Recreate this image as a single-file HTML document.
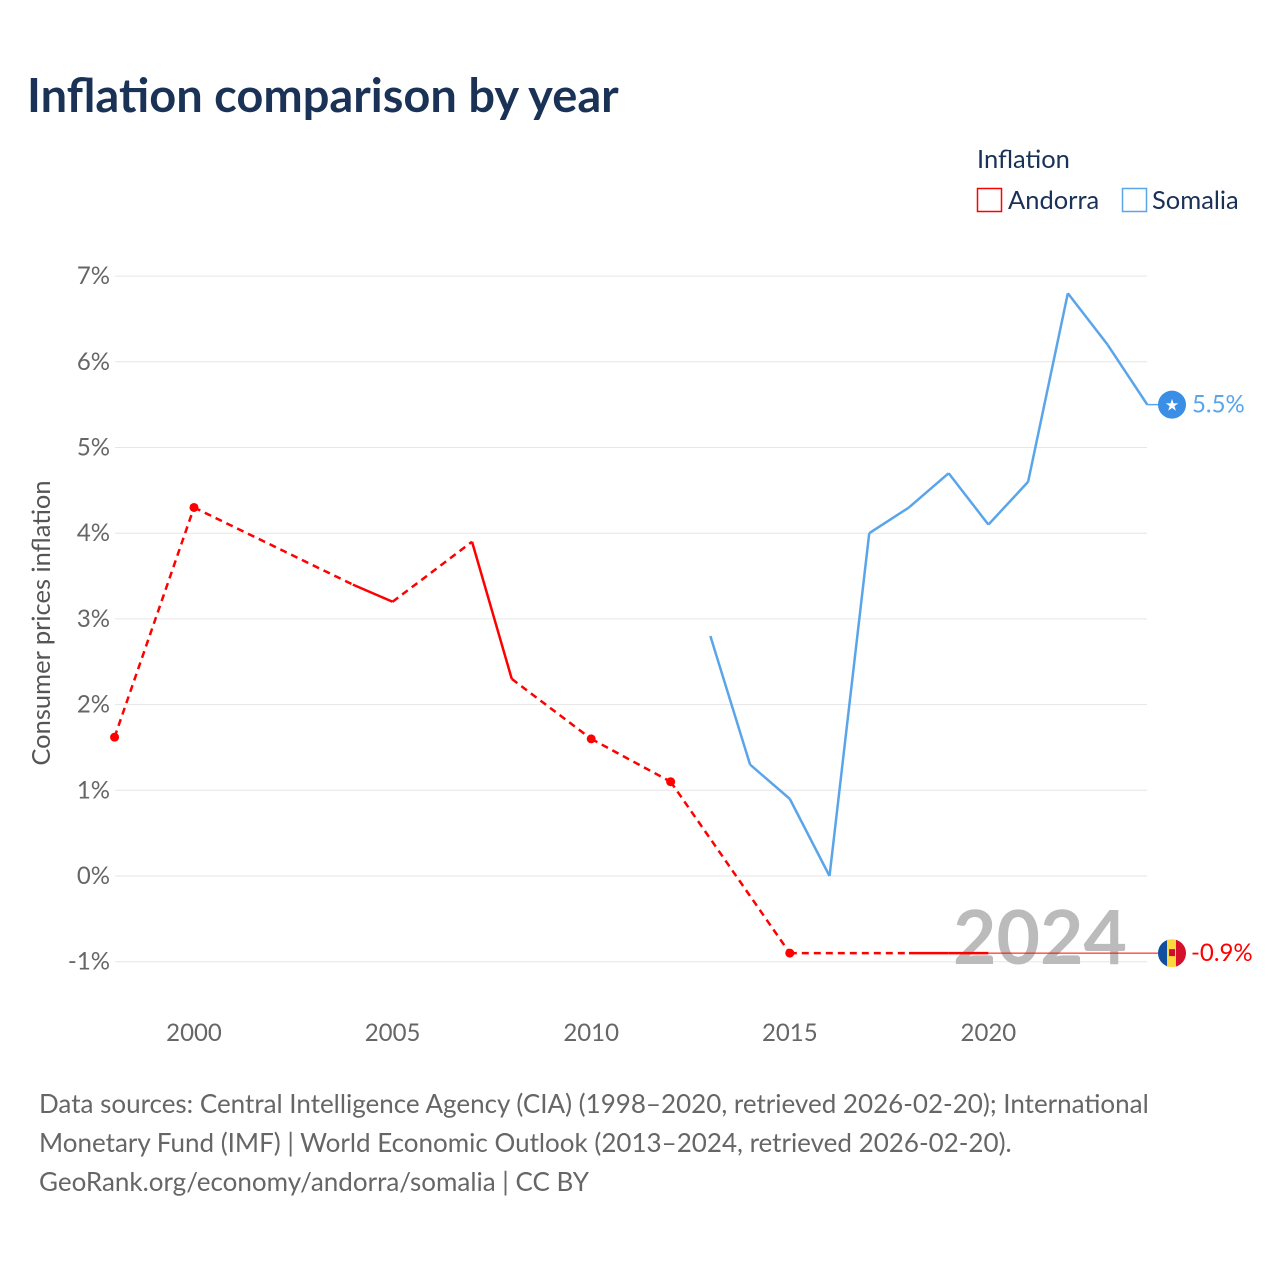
<!DOCTYPE html>
<html><head><meta charset="utf-8">
<style>
body{margin:0;background:#fff;font-family:"Liberation Sans",sans-serif;}
svg text{font-family:"Lato","Liberation Sans",sans-serif;}
</style></head>
<body>
<svg id="chart" width="1280" height="1280" viewBox="0 0 1280 1280" xmlns="http://www.w3.org/2000/svg">
<text x="27" y="112" font-size="47" font-weight="bold" fill="#1b3257">Inflation comparison by year</text>
<g>
<text x="977" y="168" font-size="25.5" fill="#1b3257">Inflation</text>
<g><rect x="977.5" y="188.5" width="24" height="23" fill="none" stroke="#ff0000" stroke-width="1.5"/><text x="1008" y="209" font-size="25.5" fill="#1b3257">Andorra</text></g>
<g><rect x="1122.5" y="188.5" width="24" height="23" fill="none" stroke="#5aa5ea" stroke-width="1.5"/><text x="1152" y="209" font-size="25.5" fill="#1b3257">Somalia</text></g>
</g>
<g id="grid"></g>
<text x="1127" y="964" font-size="75" font-weight="bold" fill="#bbbbbb" text-anchor="end">2024</text>
<g id="series"></g>
<text transform="translate(50,623) rotate(-90)" font-size="25.5" fill="#555" text-anchor="middle">Consumer prices inflation</text>
<g font-size="26" fill="#666">
<text x="39" y="1113">Data sources: Central Intelligence Agency (CIA) (1998–2020, retrieved 2026-02-20); International</text>
<text x="39" y="1152">Monetary Fund (IMF) | World Economic Outlook (2013–2024, retrieved 2026-02-20).</text>
<text x="39" y="1191">GeoRank.org/economy/andorra/somalia | CC BY</text>
</g>
</svg>
<script>
const yTicks=[-1,0,1,2,3,4,5,6,7];
const xTicks=[2000,2005,2010,2015,2020];
const andorraYears=[1998,2000,2004,2005,2007,2008,2010,2012,2015,2018,2019,2020];
const andorraValues=[1.62,4.3,3.4,3.2,3.9,2.3,1.6,1.1,-0.9,-0.9,-0.9,-0.9];
const somaliaYears=[2013,2014,2015,2016,2017,2018,2019,2020,2021,2022,2023,2024];
const somaliaValues=[2.8,1.3,0.9,0.0,4.0,4.3,4.7,4.1,4.6,6.8,6.2,5.5];
const NS="http://www.w3.org/2000/svg";
const X=yr=>194+(yr-2000)*39.72;
const Y=v=>876-v*85.7;
const grid=document.getElementById('grid'),series=document.getElementById('series');
function mk(tag,attrs,parent){const e=document.createElementNS(NS,tag);for(const k in attrs)e.setAttribute(k,attrs[k]);parent.appendChild(e);return e;}
yTicks.forEach(t=>{
 const l=mk('line',{x1:115,x2:1147,y1:Y(t),y2:Y(t),stroke:'#e6e6e6','stroke-width':1},grid);
 
 
 const tx=mk('text',{x:110,y:Y(t)+8,'font-size':24,fill:'#666','text-anchor':'end'},grid);
 tx.textContent=t+'%';
 
 
});
xTicks.forEach(t=>{
 const tx=mk('text',{x:X(t),y:1041,'font-size':24,fill:'#666','text-anchor':'middle'},grid);
 tx.textContent=t;
 
 
});
function drawSeries(years,vals,color,name){
 const g=mk('g',{},series);
 
 
 for(let i=0;i<years.length-1;i++){
  const gap=years[i+1]-years[i]>1;
  const l=mk('line',{x1:X(years[i]),y1:Y(vals[i]),x2:X(years[i+1]),y2:Y(vals[i+1]),stroke:color,'stroke-width':2.5},g);
  if(gap)l.setAttribute('stroke-dasharray','7,5');
  
  
 }
 for(let i=0;i<years.length;i++){
  const prevGap=i==0||years[i]-years[i-1]>1;
  const nextGap=i==years.length-1||years[i+1]-years[i]>1;
  if(prevGap&&nextGap){
   const c=mk('circle',{cx:X(years[i]),cy:Y(vals[i]),r:4.5,fill:color},g);
   
   
  }
 }
 return g;
}
drawSeries(andorraYears,andorraValues,'#ff0000','andorra');
drawSeries(somaliaYears,somaliaValues,'#5aa5ea','somalia');
const aLast=andorraValues[andorraValues.length-1],sLast=somaliaValues[somaliaValues.length-1];
const ext=mk('line',{x1:X(andorraYears[andorraYears.length-1]),y1:Y(aLast),x2:1172,y2:Y(aLast),stroke:'#ff0000','stroke-width':1},series);


const sx=mk('line',{x1:X(2024),y1:Y(sLast),x2:1172,y2:Y(sLast),stroke:'#5aa5ea','stroke-width':1.5},series);


const sm=mk('g',{},series);


mk('circle',{cx:1172,cy:Y(sLast),r:14,fill:'#3a8ee6'},sm);
const st=mk('text',{x:1172,y:Y(sLast)+6,'font-size':16,fill:'#fff','text-anchor':'middle'},sm);st.textContent='★';
const sl=mk('text',{x:1192,y:Y(sLast)+8,'font-size':24,fill:'#5aa5ea'},series);sl.textContent=sLast.toFixed(1)+'%';


const am=mk('g',{},series);


const ay=Y(aLast);
const cp=mk('clipPath',{id:'fc'},am);
mk('circle',{cx:1172,cy:ay,r:14},cp);
const fg=mk('g',{'clip-path':'url(#fc)'},am);
mk('rect',{x:1158,y:ay-14,width:10,height:28,fill:'#10509e'},fg);
mk('rect',{x:1167,y:ay-14,width:10,height:28,fill:'#fcd73e'},fg);
mk('rect',{x:1176,y:ay-14,width:10,height:28,fill:'#d5102a'},fg);
mk('rect',{x:1169,y:ay-4,width:6,height:7,fill:'#c8102e'},fg);
const al=mk('text',{x:1191,y:ay+8,'font-size':24,fill:'#ff0000'},series);al.textContent=aLast.toFixed(1)+'%';


</script>
</body></html>
